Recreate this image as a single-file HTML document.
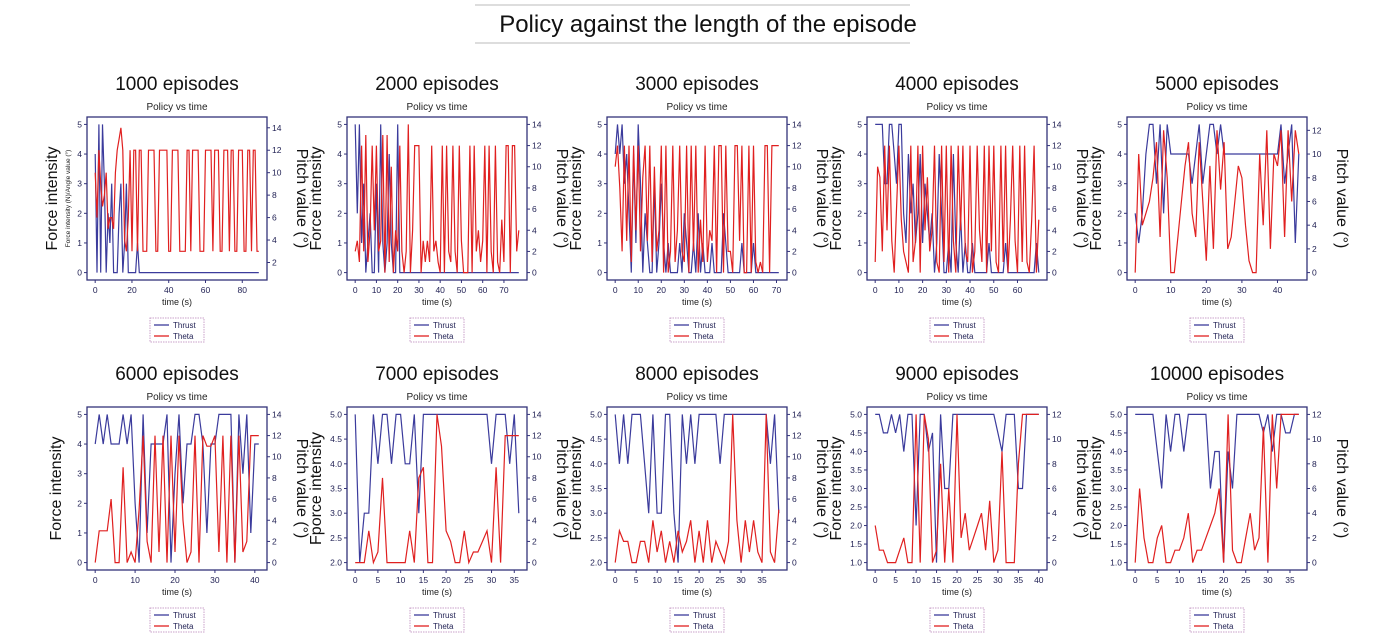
<!DOCTYPE html>
<html><head><meta charset="utf-8"><style>
body{margin:0;background:#fff;width:1400px;height:636px;overflow:hidden;font-family:"Liberation Sans",sans-serif}
svg text{font-family:"Liberation Sans",sans-serif}
</style></head><body>
<svg id="fig" width="1400" height="636" xmlns="http://www.w3.org/2000/svg">
<line x1="475" y1="5" x2="910" y2="5" stroke="#bbb"/>
<line x1="475" y1="43" x2="910" y2="43" stroke="#bbb"/>
<text x="708" y="32" text-anchor="middle" font-size="24" fill="#111">Policy against the length of the episode</text>
</svg>
<script>
const episodes=["1000","2000","3000","4000","5000","6000","7000","8000","9000","10000"];
const xMaxes=[89,77,71,69,46,41,36,39,40,37];
const xTickSteps=[20,10,10,10,10,10,5,5,5,5];
const leftMins=[0,0,0,0,0,0,2,2,1,1];
const leftTicks=[[0,1,2,3,4,5],[0,1,2,3,4,5],[0,1,2,3,4,5],[0,1,2,3,4,5],[0,1,2,3,4,5],[0,1,2,3,4,5],
 ["2.0","2.5","3.0","3.5","4.0","4.5","5.0"],["2.0","2.5","3.0","3.5","4.0","4.5","5.0"],
 ["1.0","1.5","2.0","2.5","3.0","3.5","4.0","4.5","5.0"],["1.0","1.5","2.0","2.5","3.0","3.5","4.0","4.5","5.0"]];
const rightRanges=[[1.1,14.3],[0,14],[0,14],[0,14],[0,12.5],[0,14],[0,14],[0,14],[0,12],[0,12]];
const rightTicks=[[2,4,6,8,10,12,14],[0,2,4,6,8,10,12,14],[0,2,4,6,8,10,12,14],[0,2,4,6,8,10,12,14],[0,2,4,6,8,10,12],[0,2,4,6,8,10,12,14],[0,2,4,6,8,10,12,14],[0,2,4,6,8,10,12,14],[0,2,4,6,8,10,12],[0,2,4,6,8,10,12]];
const leftLabels=["Force intensity","Force intensity","Force intensity","Force intensity","Force intensity","Force intensity","Fporce intensity","Force intensity","Force intensity","Force intensity"];
const thrust=[
[4,0,5,0,5,3,0,2,1,3,0,0,0,2,3,0,1,3,0,0,0,0,0,1,0,0,0,0,0,0,0,0,0,0,0,0,0,0,0,0,0,0,0,0,0,0,0,0,0,0,0,0,0,0,0,0,0,0,0,0,0,0,0,0,0,0,0,0,0,0,0,0,0,0,0,0,0,0,0,0,0,0,0,0,0,0,0,0,0,0],
[5,2,5,1,3,0,1,2,0,0,3,0,5,1,0,1,4,1,0,0,5,0,0,0,0,0,0,0,0,0,0,0,0,0,0,0,0,0,0,0,0,0,0,0,0,0,0,0,0,0,0,0,0,0,0,0,0,0,0,0,0,0,0,0,0,0,0,0,0,0,0,0,0,0,0,0,0,0],
[4,5,4,5,3,4,2,0,4,1,5,3,0,2,1,0,0,3,0,1,3,1,0,1,0,0,0,0,1,0,2,1,0,0,1,0,2,0,1,0,0,0,1,0,0,0,0,2,1,0,0,0,0,0,0,1,0,0,0,0,1,0,0,0,0,0,0,0,0,0,0,0],
[5,5,5,5,3,3,5,5,4,3,5,5,2,1,4,2,3,1,2,4,1,3,2,1,2,0,1,4,2,0,0,1,0,4,1,0,2,0,1,0,0,1,0,0,0,0,0,0,1,0,0,0,0,0,0,1,0,0,0,0,0,0,0,0,0,0,0,0,1,0],
[2,1,2,4,5,5,3,5,2,5,4,4,4,4,4,4,3,4,5,3,4,5,5,4,5,4,4,4,4,4,4,4,4,4,4,4,4,4,4,4,4,5,3,4,5,1,4],
[4,5,4,5,4,4,4,5,4,5,2,0,5,1,4,4,4,4,5,0,3,5,2,4,4,5,5,4,1,4,4,5,5,5,5,0,5,3,5,1,4,4],
[5,2,3,3,5,4,5,5,4,5,5,4,4,5,3,5,5,5,5,5,5,5,5,5,5,5,5,5,5,5,4,5,5,5,4,5,3],
[5,4,5,4,5,5,5,4,3,5,3,3,5,5,3,2,5,4,5,4,5,5,5,5,5,4,5,5,5,5,5,5,5,5,5,5,5,4,5,3],
[5,5,4.5,4.5,5,4.5,5,4,5,5,2,5,5,4,4.5,1,5,3,3,5,5,5,5,5,5,5,5,5,5,5,4.5,4,5,5,5,3,3,5,5,5,5],
[5,5,5,5,5,4,3,5,4,5,5,4,5,5,5,5,5,3,4,4,1,4,3,5,5,5,5,5,5,4.5,5,4,5,5,4.5,4.5,5,5]];
const theta=[
[10,6,12,9,7,8,10,5,6,6,5,10,12,13,14,12,4,3,6,12,3,12,12,3,12,12,3,3,3,12,12,12,12,3,3,12,12,12,12,12,3,3,12,12,12,12,3,3,3,3,12,12,3,12,12,12,12,3,3,3,12,12,12,12,3,12,12,12,3,3,12,12,12,3,12,12,3,3,12,12,12,3,3,12,12,3,12,12,3,3],
[2,3,1,12,2,13,1,4,12,4,12,2,3,13,0,13,1,10,0,4,2,12,2,0,2,14,0,4,12,12,12,0,3,1,3,1,12,2,3,1,0,12,0,12,2,1,12,2,0,12,3,0,0,0,12,0,12,2,4,1,3,12,0,12,2,0,12,1,0,5,1,12,12,0,12,12,2,4],
[10,12,8,2,12,3,12,1,12,4,12,2,9,12,3,12,1,10,2,4,12,0,12,0,2,12,1,4,12,2,1,12,0,12,2,12,0,5,1,12,1,4,3,12,0,12,12,0,12,2,2,0,12,12,3,12,0,0,12,0,12,1,0,1,0,12,12,0,12,12,12,12],
[1,10,9,2,12,4,12,3,0,6,12,5,2,1,0,12,1,3,12,0,12,4,9,2,4,12,1,0,12,1,12,0,12,3,0,12,4,12,2,1,12,0,2,12,4,1,12,0,12,2,12,1,0,12,1,12,0,5,12,3,0,12,1,12,1,0,5,12,0,5],
[0,10,4,5,6,8,11,3,12,8,0,0,3,6,9,11,5,3,11,6,1,9,2,12,7,11,2,3,6,9,8,4,1,0,0,10,4,12,2,10,9,12,3,12,6,12,10],
[0,3,3,3,6,0,0,9,0,1,0,5,12,2,0,12,1,12,0,12,1,12,4,0,1,12,0,12,11,11,12,1,12,0,12,0,12,1,2,12,12,12],
[0,0,0,3,0,1,8,0,0,0,0,0,3,0,8,9,0,0,14,11,3,2,0,0,3,0,1,1,2,3,0,9,0,12,12,12,12],
[0,3,2,2,0,0,2,2,0,4,1,3,0,2,0,3,1,2,4,0,3,0,4,0,2,1,0,2,14,4,0,4,1,4,1,0,14,1,0,5],
[3,1,1,0,0,0,1,2,0,0,12,0,12,10,0,1,8,0,6,0,12,2,4,1,2,3,4,1,5,0,1,9,0,0,0,8,12,12,12,12,12],
[0,6,2,0,0,2,3,0,0,1,1,2,4,0,1,1,2,3,4,6,0,12,1,0,0,2,4,1,2,11,0,12,6,12,12,12,12,12]];

const svg=document.getElementById('fig');
const NS='http://www.w3.org/2000/svg';
function mk(tag,attrs,parent,txt){const e=document.createElementNS(NS,tag);for(const k in attrs)e.setAttribute(k,attrs[k]);if(txt!==undefined)e.textContent=txt;parent.appendChild(e);return e;}
const colX=[87,347,607,867,1127];
const rowY=[117,407];
const W=180,H=163;
for(let p=0;p<10;p++){
  const g=mk('g',{},svg);
  
  
  const x0=colX[p%5],y0=rowY[Math.floor(p/5)],cx=x0+W/2;
  const xm=xMaxes[p],xr=xm*0.05;
  const sx=v=>x0+(v+xr)/(xm+2*xr)*W;
  const lmin=leftMins[p],lr=(5-lmin)*0.05;
  const syL=v=>y0+H-(v-lmin+lr)/(5-lmin+2*lr)*H;
  const [rmin,rmax]=rightRanges[p];const rr=(rmax-rmin)*0.05;
  const syR=v=>y0+H-(v-rmin+rr)/(rmax-rmin+2*rr)*H;
  const t1=mk('text',{x:cx,y:y0-27,'text-anchor':'middle','font-size':19,fill:'#111'},g,episodes[p]+' episodes');
  
  const t2=mk('text',{x:cx,y:y0-7,'text-anchor':'middle','font-size':10,fill:'#222'},g,'Policy vs time');
  
  const fr=mk('rect',{x:x0,y:y0,width:W,height:H,fill:'none',stroke:'#33337a','stroke-width':1.3},g);
  
  for(let v=0;v<=xm;v+=xTickSteps[p]){
    mk('line',{x1:sx(v),x2:sx(v),y1:y0+H,y2:y0+H+3,stroke:'#33337a'},g);
    const tl=mk('text',{x:sx(v),y:y0+H+13,'text-anchor':'middle','font-size':8.5,fill:'#222255'},g,v);
    
  }
  leftTicks[p].forEach(s=>{const v=parseFloat(s);const y=syL(v);
    mk('line',{x1:x0-3,x2:x0,y1:y,y2:y,stroke:'#33337a'},g);
    const tl=mk('text',{x:x0-5,y:y+3,'text-anchor':'end','font-size':8.5,fill:'#222255'},g,s);
    });
  rightTicks[p].forEach(v=>{const y=syR(v);
    mk('line',{x1:x0+W,x2:x0+W+3,y1:y,y2:y,stroke:'#33337a'},g);
    const tl=mk('text',{x:x0+W+5,y:y+3,'font-size':8.5,fill:'#222255'},g,v);
    });
  const xl=mk('text',{x:cx,y:y0+H+25,'text-anchor':'middle','font-size':9,fill:'#222'},g,'time (s)');
  
  const ly=y0+H/2;
  const lx=p===0?x0-30:x0-26;
  const ll=mk('text',{x:lx,y:ly,'text-anchor':'middle','font-size':16,fill:'#111',transform:`rotate(-90 ${lx} ${ly})`},g,leftLabels[p]);
  
  if(p===0){
    const sl=mk('text',{x:x0-17,y:ly,'text-anchor':'middle','font-size':6.5,fill:'#222',transform:`rotate(-90 ${x0-17} ${ly})`},g,'Force intensity (N)/Angle value (°)');
    
  }
  const rl=mk('text',{x:x0+W+30,y:ly,'text-anchor':'middle','font-size':16,fill:'#111',transform:`rotate(90 ${x0+W+30} ${ly})`},g,'Pitch value (°)');
  
  const pT=thrust[p].map((v,i)=>sx(i).toFixed(1)+','+syL(v).toFixed(1)).join(' ');
  const lt=mk('polyline',{points:pT,fill:'none',stroke:'#3b3b9c','stroke-width':1.2},g);
  
  const pH=theta[p].map((v,i)=>sx(i).toFixed(1)+','+syR(v).toFixed(1)).join(' ');
  const lh=mk('polyline',{points:pH,fill:'none',stroke:'#e02020','stroke-width':1.2},g);
  
  const lg=mk('g',{},g);
  
  const ly0=y0+H+38;
  mk('rect',{x:cx-27,y:ly0,width:54,height:24,fill:'#fff',stroke:'#c9a0c9','stroke-dasharray':'1.5,1'},lg);
  mk('line',{x1:cx-23,x2:cx-8,y1:ly0+7,y2:ly0+7,stroke:'#3b3b9c','stroke-width':1.3},lg);
  mk('line',{x1:cx-23,x2:cx-8,y1:ly0+18,y2:ly0+18,stroke:'#e02020','stroke-width':1.3},lg);
  mk('text',{x:cx-4,y:ly0+10,'font-size':8,fill:'#222255'},lg,'Thrust');
  mk('text',{x:cx-4,y:ly0+21,'font-size':8,fill:'#222255'},lg,'Theta');
}
</script>
</body></html>
